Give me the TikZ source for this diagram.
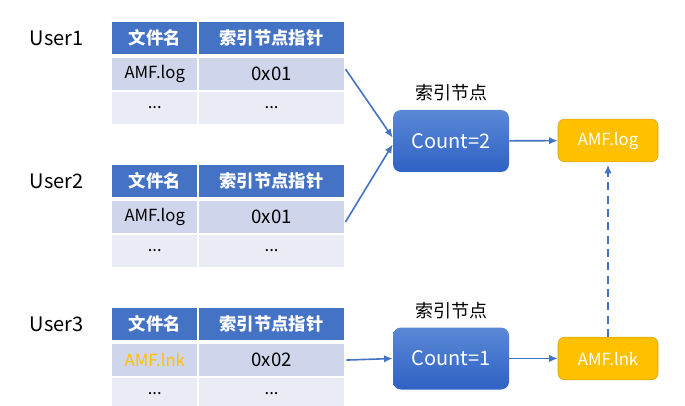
\documentclass[tikz,border=0pt]{standalone}
\usepackage{fontspec}
\setmainfont{Noto Sans CJK SC}
\usepackage{xcolor}
\usetikzlibrary{arrows.meta,positioning,calc}

\definecolor{hdblue}{HTML}{4472C4}
\definecolor{rowdark}{HTML}{CFD5EA}
\definecolor{rowlight}{HTML}{E9EBF5}
\definecolor{amber}{HTML}{FFC000}
\definecolor{amberline}{HTML}{D4A017}
\definecolor{inodetop}{HTML}{5B88D6}
\definecolor{inodebot}{HTML}{2E62C4}

\begin{document}
\begin{tikzpicture}[
    x=0.75pt, y=-0.75pt,
    cell/.style = {rectangle, inner sep=0pt, minimum height=24pt},
    namecol/.style = {cell, minimum width=63.75pt},
    ptrcol/.style = {cell, minimum width=108.75pt},
    hd_cell/.style = {fill=hdblue, text=white, font=\fontsize{13}{15}\selectfont\bfseries},
    row_a/.style = {fill=rowdark, font=\fontsize{12.5}{14}\selectfont},
    row_b/.style = {fill=rowlight, font=\fontsize{12.5}{14}\selectfont},
    ptr_txt/.style = {font=\fontsize{14}{16}\selectfont},
    user_lbl/.style = {font=\fontsize{15}{18}\selectfont},
    inode_block/.style = {rectangle, rounded corners=6pt, minimum width=87pt, minimum height=46.5pt,
        top color=inodetop, bottom color=inodebot, text=white,
        font=\fontsize{15}{17}\selectfont},
    file_block/.style = {rectangle, rounded corners=5pt, draw=amberline, fill=amber, text=white,
        minimum width=75pt, minimum height=32pt, font=\fontsize{12.5}{14}\selectfont},
    inode_lbl/.style = {font=\fontsize{13.5}{16}\selectfont},
    arrow/.style = {line width=1.2pt, hdblue, -{Latex[length=6.5pt,width=5.5pt]}}
]
\useasboundingbox (0,0) rectangle (685,406);

% Table of User1
\node [namecol, hd_cell, anchor=north west] (ah1) at (112,22) {文件名};
\node [ptrcol, hd_cell, right=1pt of ah1] (ah2) {索引节点指针};
\node [namecol, row_a, below=2.5pt of ah1] (aa1) {AMF.log};
\node [ptrcol, row_a, ptr_txt, right=1pt of aa1] (aa2) {0x01};
\node [namecol, row_b, below=1pt of aa1] (ab1) {...};
\node [ptrcol, row_b, right=1pt of ab1] (ab2) {...};
\node [user_lbl, left=18pt of ah1] (u1) {User1};

% Table of User2
\node [namecol, hd_cell, anchor=north west] (bh1) at (112,165) {文件名};
\node [ptrcol, hd_cell, right=1pt of bh1] (bh2) {索引节点指针};
\node [namecol, row_a, below=2.5pt of bh1] (ba1) {AMF.log};
\node [ptrcol, row_a, ptr_txt, right=1pt of ba1] (ba2) {0x01};
\node [namecol, row_b, below=1pt of ba1] (bb1) {...};
\node [ptrcol, row_b, right=1pt of bb1] (bb2) {...};
\node [user_lbl, left=18pt of bh1] (u2) {User2};

% Table of User3
\node [namecol, hd_cell, anchor=north west] (ch1) at (112,308) {文件名};
\node [ptrcol, hd_cell, right=1pt of ch1] (ch2) {索引节点指针};
\node [namecol, row_a, below=2.5pt of ch1, text=amber] (ca1) {AMF.lnk};
\node [ptrcol, row_a, ptr_txt, right=1pt of ca1] (ca2) {0x02};
\node [namecol, row_b, below=1pt of ca1] (cb1) {...};
\node [ptrcol, row_b, right=1pt of cb1] (cb2) {...};
\node [user_lbl, left=18pt of ch1] (u3) {User3};

% Index nodes and files
\node [inode_block] (n1) at (451,141) {Count=2};
\node [inode_lbl, above=3pt of n1] (n1l) {索引节点};
\node [file_block] (f1) at (608,140.5) {AMF.log};
\node [inode_block] (n2) at (451,358.5) {Count=1};
\node [inode_lbl, above=3pt of n2] (n2l) {索引节点};
\node [file_block] (f2) at (608,358.5) {AMF.lnk};

% Arrows
\draw [arrow, shorten <=1.5pt] ([yshift=5pt]aa2.east) -- ([yshift=2.5pt]n1.west);
\draw [arrow, shorten <=1.5pt] ([yshift=-5pt]ba2.east) -- ([yshift=-2.5pt]n1.west);
\draw [arrow, shorten <=1.5pt] (ca2.east) -- (n2.west);
\draw [arrow] (n1) -- (f1);
\draw [arrow] (n2) -- (f2);
\draw [arrow, dash pattern=on 6pt off 4pt, shorten >=2pt] (f2.north) -- (f1.south);

\end{tikzpicture}
\end{document}
